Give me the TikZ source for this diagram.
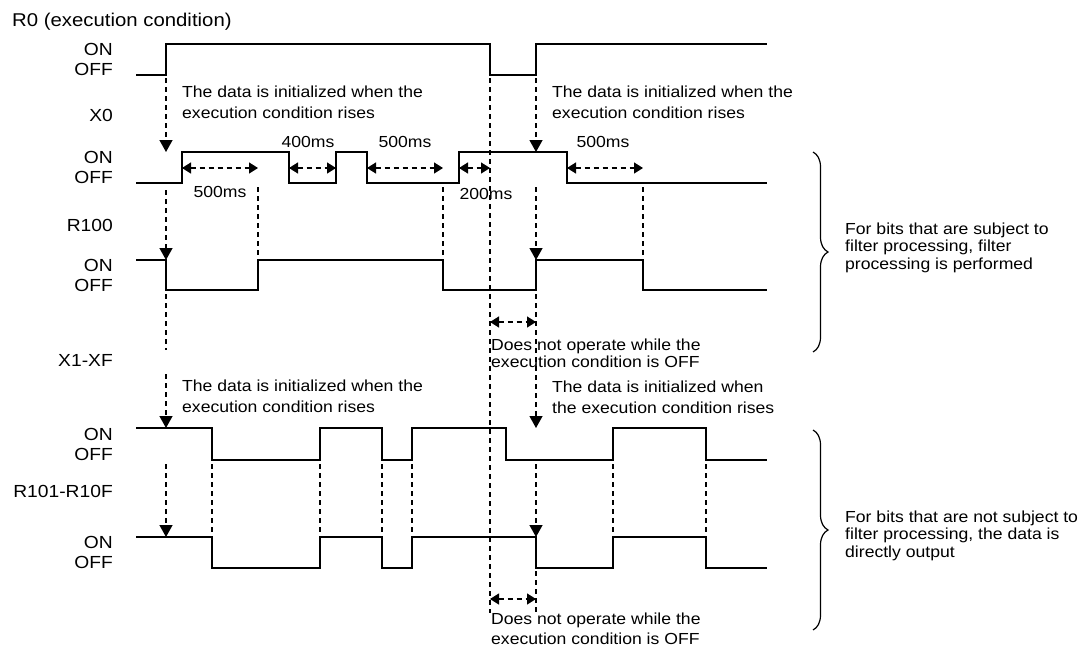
\documentclass[tikz,border=0pt]{standalone}
\usepackage{fontspec}
\setmainfont[FakeStretch=1.1]{Liberation Sans}
\usetikzlibrary{arrows.meta,decorations.pathreplacing}

\begin{document}
\begin{tikzpicture}[x=1pt,y=-1pt]
    \tikzset{
      wave/.style={draw=black, line width=1.8pt, line join=miter},
      guide/.style={draw=black, line width=1.3pt, dash pattern=on 5pt off 4pt},
      dtip/.style={guide, -{Triangle[length=12pt,width=13pt]}},
      span/.style={guide, {Triangle[length=9pt,width=11pt]}-{Triangle[length=9pt,width=11pt]}},
      sname/.style={font=\fontsize{17.5}{20}\selectfont, anchor=east, inner sep=0pt},
      lvl/.style={font=\fontsize{17.5}{20}\selectfont, anchor=east, align=right, inner sep=0pt},
      note/.style={font=\fontsize{16}{21}\selectfont, anchor=north west, align=left, inner sep=0pt},
      tlab/.style={font=\fontsize{16}{18}\selectfont, anchor=base, inner sep=0pt},
      brc/.style={draw=black, line width=1.2pt, decorate, decoration={brace, amplitude=15pt}}
    }
    \useasboundingbox (0,0) rectangle (1085,654);

    % R0 (execution condition)
    \node[font=\fontsize{18.5}{20}\selectfont, anchor=west, inner sep=0pt] (r0name) at (12,22) {R0 (execution condition)};
    \node[lvl] (r0lvl) at (113,59.5) {ON\\OFF};
    \draw[wave] (136,75) -- (166,75) -- (166,44) -- (490,44) -- (490,75) -- (536,75) -- (536,44) -- (767,44);

    % X0
    \node[sname] (x0name) at (113,115) {X0};
    \node[lvl] (x0lvl) at (113,167.5) {ON\\OFF};
    \draw[wave] (136,183) -- (182,183) -- (182,152) -- (289,152) -- (289,183) -- (336,183) -- (336,152)
      -- (367,152) -- (367,183) -- (459,183) -- (459,152) -- (567,152) -- (567,183) -- (767,183);
    \node[note] (init1) at (182,85.5) {The data is initialized when the\\execution condition rises};
    \node[note] (init2) at (552,85.5) {The data is initialized when the\\execution condition rises};
    \draw[span] (182,168) -- (258,168);
    \draw[span] (289,168) -- (336,168);
    \draw[span] (367,168) -- (443,168);
    \draw[span] (459,168) -- (490,168);
    \draw[span] (567,168) -- (643,168);
    \node[tlab] (t500a) at (220,197) {500ms};
    \node[tlab] (t400) at (308,147) {400ms};
    \node[tlab] (t500b) at (405,147) {500ms};
    \node[tlab] (t200) at (486,199) {200ms};
    \node[tlab] (t500c) at (603,147) {500ms};

    % R100
    \node[sname] (r100name) at (113,225) {R100};
    \node[lvl] (r100lvl) at (113,275) {ON\\OFF};
    \draw[wave] (136,260) -- (166,260) -- (166,290) -- (258,290) -- (258,260) -- (443,260) -- (443,290)
      -- (536,290) -- (536,260) -- (643,260) -- (643,290) -- (767,290);
    \draw[span] (490,322) -- (536,322);
    \node[note, font=\fontsize{16}{17}\selectfont] (idle1) at (491,338.5) {Does not operate while the\\execution condition is OFF};

    % X1-XF
    \node[sname] (x1name) at (113,360) {X1-XF};
    \node[lvl] (x1lvl) at (113,444) {ON\\OFF};
    \draw[wave] (136,428) -- (212,428) -- (212,460) -- (320,460) -- (320,428) -- (382,428) -- (382,460)
      -- (412,460) -- (412,428) -- (506,428) -- (506,460) -- (613,460) -- (613,428) -- (706,428)
      -- (706,460) -- (767,460);
    \node[note] (init3) at (182,379.5) {The data is initialized when the\\execution condition rises};
    \node[note] (init4) at (552,380.5) {The data is initialized when\\the execution condition rises};

    % R101-R10F
    \node[sname] (r101name) at (113,491) {R101-R10F};
    \node[lvl] (r101lvl) at (113,552.5) {ON\\OFF};
    \draw[wave] (136,537) -- (212,537) -- (212,568) -- (320,568) -- (320,537) -- (382,537) -- (382,568)
      -- (412,568) -- (412,537) -- (536,537) -- (536,568) -- (613,568) -- (613,537) -- (706,537)
      -- (706,568) -- (767,568);
    \draw[span] (490,599) -- (536,599);
    \node[note, font=\fontsize{16}{20}\selectfont] (idle2) at (491,612.5) {Does not operate while the\\execution condition is OFF};

    % Guide lines
    \draw[dtip] (166,78) -- (166,152);
    \draw[dtip] (166,190) -- (166,260);
    \draw[guide] (166,294) -- (166,350);
    \draw[dtip] (166,374) -- (166,428);
    \draw[dtip] (166,464) -- (166,537);
    \draw[dtip] (536,78) -- (536,152);
    \draw[dtip] (536,187) -- (536,260);
    \draw[dtip] (536,294) -- (536,428);
    \draw[dtip] (536,464) -- (536,537);
    \draw[guide] (536,571) -- (536,613);
    \draw[guide] (490,78) -- (490,613);
    \foreach \x in {258,443,643} {
      \draw[guide] (\x,187) -- (\x,258);
    }
    \foreach \x in {212,320,382,412,613,706} {
      \draw[guide] (\x,464) -- (\x,535);
    }

    % Braces
    \draw[brc] (813,152) -- (813,352);
    \node[note, font=\fontsize{16}{17.5}\selectfont] (filt) at (845,222.5) {For bits that are subject to\\filter processing, filter\\processing is performed};
    \draw[brc] (813,430) -- (813,630);
    \node[note, font=\fontsize{16}{17.5}\selectfont] (direct) at (845,510.5) {For bits that are not subject to\\filter processing, the data is\\directly output};
  \end{tikzpicture}
\end{document}
